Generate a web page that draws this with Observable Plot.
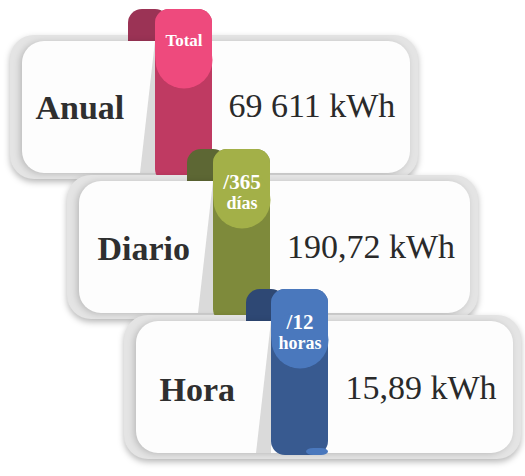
<!DOCTYPE html>
<html>
<head>
<meta charset="utf-8">
<script src="https://cdn.jsdelivr.net/npm/d3@7"></script>
<script src="https://cdn.jsdelivr.net/npm/@observablehq/plot@0.6"></script>
<style>
  html, body { margin: 0; padding: 0; background: #ffffff; }
  #chart svg { display: block; }
  #chart svg g[fill="#e4e4e4"] rect { filter: drop-shadow(0px 3px 3px rgba(0,0,0,0.28)); }
  #chart svg g[fill="#fdfdfd"] rect { filter: drop-shadow(-2px 1px 3px rgba(0,0,0,0.18)); }
</style>
</head>
<body>
<div id="chart"></div>
<script>
// ---- data ----
const categories = ["Anual", "Diario", "Hora"];
const values = ["69 611 kWh", "190,72 kWh", "15,89 kWh"];
const ribbonLine1 = ["Total", "/365", "/12"];
const ribbonLine2 = ["", "días", "horas"];

// ---- styles ----
const serif = "Liberation Serif";
const brightColors = ["#ee4a7d", "#a3b048", "#4a78bd"];
const stripColors  = ["#bf3a62", "#7e8a3b", "#385a90"];
const foldColors   = ["#9b3355", "#5d6734", "#2e4874"];

// ---- layout (pixel geometry per row index) ----
const W = 525, H = 476;
function geo(i) {
  const faceX0 = 22 + 57 * i;
  const faceX1 = Math.min(410 + 60 * i, 513);
  const faceY0 = 41 + 140 * i;
  const faceY1 = faceY0 + 132;
  const top = 9 + 140 * i;
  const sx0 = 155 + 58 * i, sx1 = 212 + 58 * i;
  return {
    faceX0, faceX1, faceY0, faceY1,
    frameX0: faceX0 - 12, frameX1: faceX1 + 8, frameY0: faceY0 - 6, frameY1: faceY1 + 6,
    top, sx0, sx1, foldX0: 128 + 59 * i,
    cx: (sx0 + sx1) / 2, cy: top + 50.5,
    labelX: 35 + 62 * i, labelY: 118 + 141 * i,
    valueX: 228 + 58.5 * i, valueY: 116 + 141 * i,
    stripEnd: i < 2 ? faceY1 + 10 : faceY1 + 2,
    last: i === 2
  };
}

const rows = categories.map((c, i) => ({
  i, category: c, value: values[i], r1: ribbonLine1[i], r2: ribbonLine2[i], g: geo(i)
}));

const marks = [];
for (const row of rows) {
  const d = [row];
  const i = row.i;
  // card frame
  marks.push(Plot.rect(d, {x1: r => r.g.frameX0, x2: r => r.g.frameX1, y1: r => r.g.frameY0, y2: r => r.g.frameY1,
    fill: "#e4e4e4", rx: 24}));
  // ribbon: back fold (goes behind the card face)
  marks.push(Plot.rect(d, {x1: r => r.g.foldX0, x2: r => r.g.sx0 + 14, y1: r => r.g.top, y2: r => r.g.faceY0 + 20,
    fill: foldColors[i], rx: 14}));
  // card face
  marks.push(Plot.rect(d, {x1: r => r.g.faceX0, x2: r => r.g.faceX1, y1: r => r.g.faceY0, y2: r => r.g.faceY1,
    fill: "#fdfdfd", rx: 22}));
  // shadow wedge to the left of the ribbon strip
  const wedge = [
    {y: row.g.faceY0, x1: row.g.sx0, x2: row.g.sx0},
    {y: row.g.faceY1, x1: row.g.sx0 - 15, x2: row.g.sx0}
  ];
  marks.push(Plot.areaX(wedge, {y: "y", x1: "x1", x2: "x2", fill: "#dadada"}));
  // text on card
  marks.push(Plot.text(d, {x: r => r.g.labelX, y: r => r.g.labelY, text: "category", textAnchor: "start", lineAnchor: "bottom",
    fontFamily: serif, fontWeight: "bold", fontSize: 34, fill: "#2f2f2f"}));
  marks.push(Plot.text(d, {x: r => r.g.valueX, y: r => r.g.valueY, text: "value", textAnchor: "start", lineAnchor: "bottom",
    fontFamily: serif, fontSize: 34, fill: "#2a2a2a"}));
  // ribbon: strip
  marks.push(Plot.rect(d, {x1: r => r.g.sx0, x2: r => r.g.sx1, y1: r => r.g.top, y2: r => r.g.stripEnd,
    fill: stripColors[i], rx: 14}));
  // ribbon: curl at the bottom of the last ribbon
  if (row.g.last) {
    marks.push(Plot.rect(d, {x1: r => r.g.sx1 - 22, x2: r => r.g.sx1, y1: r => r.g.faceY1 - 5, y2: r => r.g.faceY1 + 2,
      fill: brightColors[i], rx: 7}));
  }
  // ribbon: bright label area
  marks.push(Plot.rect(d, {x1: r => r.g.sx0, x2: r => r.g.sx1, y1: r => r.g.top, y2: r => r.g.cy + 10,
    fill: brightColors[i], rx: 14}));
  marks.push(Plot.dot(d, {x: r => r.g.cx, y: r => r.g.cy, r: 28.5, fill: brightColors[i], stroke: null}));
  // ribbon labels
  if (row.r2) {
    marks.push(Plot.text(d, {x: r => r.g.cx, y: r => r.g.top + 39, text: "r1", lineAnchor: "bottom",
      fontFamily: serif, fontWeight: "bold", fontSize: 21, fill: "#ffffff"}));
    marks.push(Plot.text(d, {x: r => r.g.cx, y: r => r.g.top + 59, text: "r2", lineAnchor: "bottom",
      fontFamily: serif, fontWeight: "bold", fontSize: 18, fill: "#ffffff"}));
  } else {
    marks.push(Plot.text(d, {x: r => r.g.cx, y: r => r.g.top + 36, text: "r1", lineAnchor: "bottom",
      fontFamily: serif, fontWeight: "bold", fontSize: 17, fill: "#ffffff"}));
  }
}

const chart = Plot.plot({
  width: W, height: H,
  margin: 0,
  x: {domain: [0, W], range: [0, W], axis: null},
  y: {domain: [0, H], range: [0, H], axis: null},
  style: {background: "#ffffff", overflow: "visible"},
  marks
});
document.getElementById("chart").appendChild(chart);
</script>
</body>
</html>
